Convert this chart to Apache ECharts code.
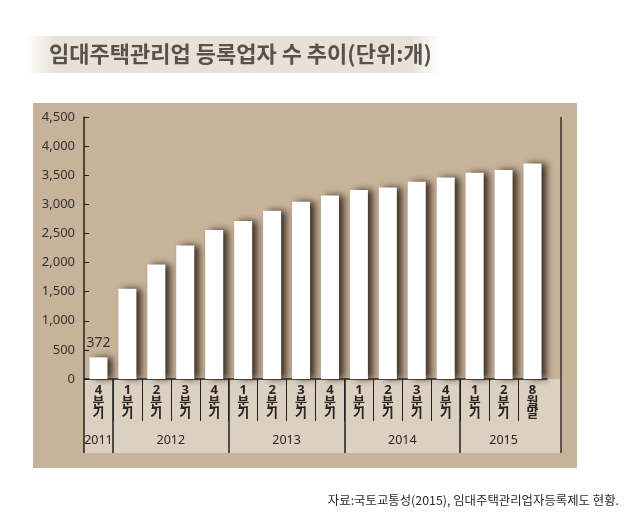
<!DOCTYPE html>
<html>
<head>
<meta charset="utf-8">
<script src="https://cdn.jsdelivr.net/npm/echarts@6/dist/echarts.min.js"></script>
<style>
html, body { margin: 0; padding: 0; background: #fff; }
#grafico { width: 630px; height: 518px; }
</style>
</head>
<body>
<div id="grafico"></div>
<script>
// dados
const periodos = ['4분기', '1분기', '2분기', '3분기', '4분기', '1분기', '2분기', '3분기', '4분기', '1분기', '2분기', '3분기', '4분기', '1분기', '2분기', '8월말']
const registros = [372, 1552, 1967, 2292, 2561, 2715, 2891, 3045, 3153, 3245, 3290, 3388, 3461, 3542, 3588, 3701]
const anos = ['2011', '2012', '2013', '2014', '2015']
const anosQtd = [1, 4, 4, 4, 3]
const yMax = 4500
const yPasso = 500

const fonte = "'Noto Sans CJK KR', 'Noto Sans', sans-serif"
const fonteNum = "'Noto Sans', 'Noto Sans CJK KR', sans-serif"

// eixos auxiliares: fronteiras entre períodos e meias posições para os anos
const fronteiras = periodos.map((p, i) => String(i)).concat([String(periodos.length)])
const inicioAnos = []
let acc = 0
anosQtd.forEach(q => {
    inicioAnos.push(acc)
    acc += q
})
const meias = Array(2 * periodos.length + 1).fill('')
anos.forEach((a, i) => {
    meias[2 * inicioAnos[i] + anosQtd[i]] = a
})
const cortes = inicioAnos.map(i => 2 * i)

const dom = document.getElementById('grafico')
const myChart = echarts.init(dom, null, { renderer: 'canvas' })

const option = {
    backgroundColor: '#fff',
    animation: false,
    title: [{
        text: '임대주택관리업 등록업자 수 추이(단위:개)',
        left: 44,
        top: 38,
        textStyle: { fontFamily: fonte, fontSize: 22, fontWeight: 'bold', color: '#57524c' }
    }, {
        text: '자료:국토교통성(2015), 임대주택관리업자등록제도 현황.',
        right: 6,
        top: 489,
        textStyle: { fontFamily: fonte, fontSize: 12.4, fontWeight: 'normal', color: '#2a2a2a' }
    }],
    graphic: [{
        type: 'rect',
        z: -10,
        shape: { x: 26, y: 36, width: 414, height: 37 },
        style: {
            fill: {
                type: 'linear', x: 0, y: 0, x2: 1, y2: 0,
                colorStops: [
                    { offset: 0, color: 'rgba(215,200,182,0)' },
                    { offset: 0.07, color: 'rgba(215,200,182,0.55)' },
                    { offset: 0.93, color: 'rgba(215,200,182,0.55)' },
                    { offset: 1, color: 'rgba(215,200,182,0)' }
                ]
            }
        }
    }, {
        type: 'rect',
        z: -10,
        shape: { x: 33, y: 103, width: 544, height: 365 },
        style: { fill: '#c7b29a' }
    }, {
        type: 'rect',
        z: -9,
        shape: { x: 84, y: 379, width: 477, height: 74 },
        style: { fill: '#dcd0c1' }
    }, {
        type: 'line',
        z: 10,
        shape: { x1: 561, y1: 117, x2: 561, y2: 453 },
        style: { stroke: '#3a2f27', lineWidth: 1.5 }
    }],
    grid: {
        left: 84,
        right: 83,
        top: 117,
        bottom: 139,
        containLabel: false
    },
    xAxis: [{
        type: 'category',
        data: periodos,
        position: 'bottom',
        axisLine: { show: true, lineStyle: { color: '#222', width: 1.5 } },
        axisTick: { show: false },
        axisLabel: {
            interval: 0,
            margin: 6,
            fontFamily: fonteNum,
            fontSize: 13,
            fontWeight: 'bold',
            lineHeight: 11.5,
            color: '#2a2522',
            formatter: v => v.split('').join('\n')
        }
    }, {
        type: 'category',
        data: fronteiras,
        boundaryGap: false,
        position: 'bottom',
        axisLine: { show: false },
        axisTick: {
            show: true,
            length: 42,
            interval: i => i > 0 && i < periodos.length,
            lineStyle: { color: '#222', width: 1 }
        },
        axisLabel: { show: false }
    }, {
        type: 'category',
        data: meias,
        boundaryGap: false,
        position: 'bottom',
        axisLine: { show: false },
        axisTick: {
            show: true,
            length: 74,
            interval: i => cortes.includes(i),
            lineStyle: { color: '#222', width: 1.5 }
        },
        axisLabel: {
            interval: 0,
            margin: 55,
            fontFamily: fonteNum,
            fontSize: 12.5,
            color: '#2a2522'
        }
    }],
    yAxis: {
        type: 'value',
        min: 0,
        max: yMax,
        interval: yPasso,
        axisLine: { show: true, lineStyle: { color: '#222', width: 1.5 } },
        axisTick: { show: true, inside: true, length: 5, lineStyle: { color: '#222' } },
        splitLine: { show: false },
        axisLabel: {
            margin: 9,
            fontFamily: fonteNum,
            fontSize: 13,
            color: '#333',
            formatter: v => v.toLocaleString('en-US')
        }
    },
    series: [{
        type: 'bar',
        xAxisIndex: 0,
        data: registros.map((v, i) => i === 0 ? {
            value: v,
            label: {
                show: true,
                position: 'top',
                distance: 7,
                fontFamily: fonteNum,
                fontSize: 14,
                color: '#333'
            }
        } : v),
        barWidth: 18,
        itemStyle: {
            color: '#fff',
            shadowColor: 'rgba(45,32,20,0.9)',
            shadowBlur: 7,
            shadowOffsetX: 5,
            shadowOffsetY: 0
        }
    }]
}

myChart.setOption(option)
</script>
</body>
</html>
